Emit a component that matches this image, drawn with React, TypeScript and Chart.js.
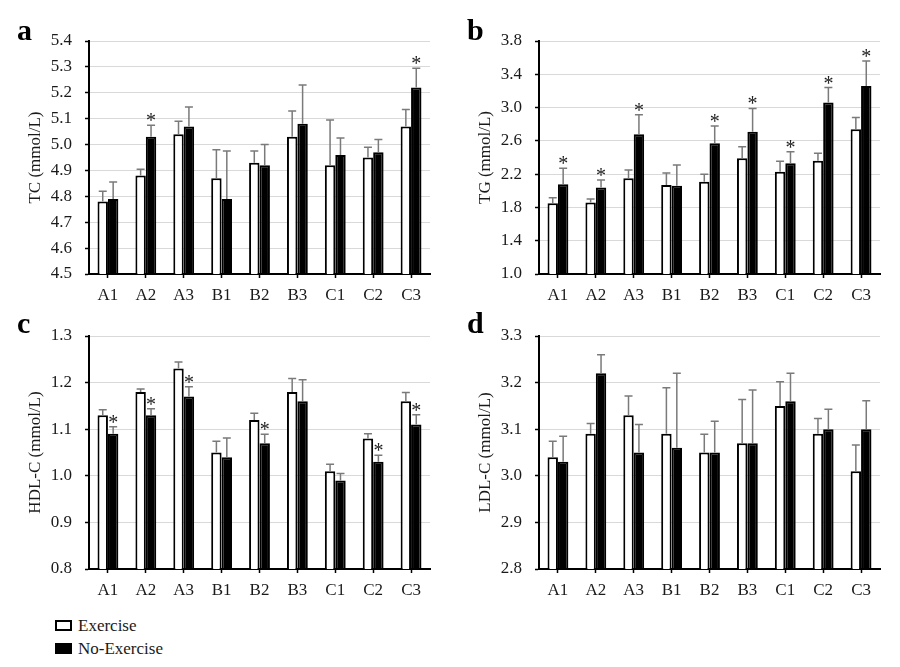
import React, { useEffect, useRef } from "react";
import { Chart, registerables } from "chart.js";

Chart.register(...registerables);

const FONT = "'Liberation Serif', 'Times New Roman', serif";

const categories = ["A1", "A2", "A3", "B1", "B2", "B3", "C1", "C2", "C3"];
const seriesNames = ["Exercise", "No-Exercise"];

// a: TC
const tcExercise = [4.78, 4.88, 5.04, 4.87, 4.93, 5.03, 4.92, 4.95, 5.07];
const tcExerciseErr = [0.04, 0.025, 0.05, 0.11, 0.045, 0.1, 0.175, 0.04, 0.065];
const tcNoExercise = [4.79, 5.03, 5.07, 4.79, 4.92, 5.08, 4.96, 4.97, 5.22];
const tcNoExerciseErr = [0.065, 0.045, 0.075, 0.185, 0.08, 0.15, 0.065, 0.05, 0.075];
const tcSig = [false, true, false, false, false, false, false, false, true];

// b: TG
const tgExercise = [1.85, 1.86, 2.15, 2.07, 2.11, 2.39, 2.23, 2.36, 2.74];
const tgExerciseErr = [0.065, 0.04, 0.1, 0.145, 0.09, 0.14, 0.125, 0.09, 0.14];
const tgNoExercise = [2.08, 2.04, 2.68, 2.06, 2.57, 2.71, 2.33, 3.06, 3.26];
const tgNoExerciseErr = [0.19, 0.09, 0.235, 0.25, 0.21, 0.28, 0.14, 0.18, 0.3];
const tgSig = [true, true, true, false, true, true, true, true, true];

// c: HDL-C
const hdlExercise = [1.13, 1.18, 1.23, 1.05, 1.12, 1.18, 1.01, 1.08, 1.16];
const hdlExerciseErr = [0.012, 0.006, 0.014, 0.024, 0.014, 0.029, 0.015, 0.01, 0.019];
const hdlNoExercise = [1.09, 1.13, 1.17, 1.04, 1.07, 1.16, 0.99, 1.03, 1.11];
const hdlNoExerciseErr = [0.015, 0.014, 0.021, 0.041, 0.019, 0.046, 0.015, 0.014, 0.021];
const hdlSig = [true, true, true, false, true, false, false, true, true];

// d: LDL-C
const ldlExercise = [3.04, 3.09, 3.13, 3.09, 3.05, 3.07, 3.15, 3.09, 3.01];
const ldlExerciseErr = [0.034, 0.022, 0.041, 0.099, 0.039, 0.094, 0.052, 0.033, 0.056];
const ldlNoExercise = [3.03, 3.22, 3.05, 3.06, 3.05, 3.07, 3.16, 3.1, 3.1];
const ldlNoExerciseErr = [0.055, 0.04, 0.06, 0.16, 0.067, 0.114, 0.06, 0.043, 0.061];
const ldlSig = [false, false, false, false, false, false, false, false, false];

type PanelProps = {
  left: number;
  top: number;
  letter: string;
  yTitle: string;
  yMin: number;
  yMax: number;
  yStep: number;
  ex: number[];
  exErr: number[];
  noEx: number[];
  noExErr: number[];
  sig: boolean[];
};

function Panel(p: PanelProps) {
  const ref = useRef<HTMLCanvasElement | null>(null);
  useEffect(() => {
    if (!ref.current) return;
    const errs = [p.exErr, p.noExErr];
    const errPlugin = {
      id: "errbars",
      afterDatasetsDraw(chart: any) {
        const { ctx } = chart;
        const y = chart.scales.y;
        ctx.save();
        chart.data.datasets.forEach((ds: any, di: number) => {
          const meta = chart.getDatasetMeta(di);
          meta.data.forEach((bar: any, i: number) => {
            const v = ds.data[i];
            const e = errs[di][i];
            const yTop = y.getPixelForValue(v + e);
            const yBase = y.getPixelForValue(v);
            ctx.strokeStyle = "#7a7a7a";
            ctx.lineWidth = 1.5;
            ctx.beginPath();
            ctx.moveTo(bar.x, yBase);
            ctx.lineTo(bar.x, yTop);
            ctx.moveTo(bar.x - 4, yTop);
            ctx.lineTo(bar.x + 4, yTop);
            ctx.stroke();
            if (di === 1 && p.sig[i]) {
              ctx.fillStyle = "#222";
              ctx.font = `20px ${FONT}`;
              ctx.textAlign = "center";
              ctx.textBaseline = "alphabetic";
              ctx.fillText("*", bar.x, yTop + 2);
            }
          });
        });
        ctx.restore();
      },
    };
    const chart = new Chart(ref.current, {
      type: "bar",
      data: {
        labels: categories,
        datasets: [
          {
            label: seriesNames[0],
            data: p.ex,
            backgroundColor: "#ffffff",
            borderColor: "#000000",
            borderWidth: 2,
            categoryPercentage: 0.55,
            barPercentage: 1.0,
          },
          {
            label: seriesNames[1],
            data: p.noEx,
            backgroundColor: "#000000",
            borderColor: "#000000",
            borderWidth: 2,
            categoryPercentage: 0.55,
            barPercentage: 1.0,
          },
        ],
      },
      options: {
        animation: false,
        responsive: false,
        maintainAspectRatio: false,
        layout: { padding: { top: 41, right: 20, bottom: 16, left: 0 } },
        plugins: {
          legend: { display: false },
          tooltip: { enabled: false },
        },
        scales: {
          x: {
            afterFit: (s: any) => {
              s.height = 30;
            },
            grid: {
              offset: false,
              drawOnChartArea: false,
              drawTicks: true,
              tickLength: 4,
              tickColor: "#000",
              tickWidth: 1.5,
            },
            border: { color: "#000", width: 2 },
            ticks: {
              color: "#1a1a1a",
              font: { family: FONT, size: 17 },
              padding: 7,
            },
          },
          y: {
            min: p.yMin,
            max: p.yMax,
            afterFit: (s: any) => {
              s.width = 89;
            },
            grid: {
              color: "#d9d9d9",
              lineWidth: 1,
              drawTicks: true,
              tickLength: 4,
              tickColor: "#000",
              tickWidth: 1.5,
            },
            border: { color: "#000", width: 2 },
            ticks: {
              stepSize: p.yStep,
              color: "#1a1a1a",
              font: { family: FONT, size: 17 },
              padding: 13,
              callback: (v: any) => Number(v).toFixed(1),
            },
            title: {
              display: true,
              text: p.yTitle,
              color: "#1a1a1a",
              font: { family: FONT, size: 17 },
              padding: { top: 25, bottom: 0 },
            },
          },
        },
      },
      plugins: [errPlugin],
    } as any);
    return () => chart.destroy();
  }, []);
  return (
    <>
      <canvas
        ref={ref}
        width={450}
        height={320}
        style={{ position: "absolute", left: p.left, top: p.top, width: 450, height: 320 }}
      />
      <div
        style={{
          position: "absolute",
          left: p.left + 17,
          top: p.top + (p.top === 0 ? 15 : 13),
          fontFamily: FONT,
          fontWeight: "bold",
          fontSize: 30,
          lineHeight: "30px",
          color: "#000",
        }}
      >
        {p.letter}
      </div>
    </>
  );
}

export default function App() {
  return (
    <div
      style={{
        position: "absolute",
        left: 0,
        top: 0,
        width: 900,
        height: 667,
        background: "#fff",
        overflow: "hidden",
      }}
    >
      <Panel left={0} top={0} letter="a" yTitle="TC (mmol/L)" yMin={4.5} yMax={5.4} yStep={0.1}
        ex={tcExercise} exErr={tcExerciseErr} noEx={tcNoExercise} noExErr={tcNoExerciseErr} sig={tcSig} />
      <Panel left={450} top={0} letter="b" yTitle="TG (mmol/L)" yMin={1.0} yMax={3.8} yStep={0.4}
        ex={tgExercise} exErr={tgExerciseErr} noEx={tgNoExercise} noExErr={tgNoExerciseErr} sig={tgSig} />
      <Panel left={0} top={295} letter="c" yTitle="HDL-C (mmol/L)" yMin={0.8} yMax={1.3} yStep={0.1}
        ex={hdlExercise} exErr={hdlExerciseErr} noEx={hdlNoExercise} noExErr={hdlNoExerciseErr} sig={hdlSig} />
      <Panel left={450} top={295} letter="d" yTitle="LDL-C (mmol/L)" yMin={2.8} yMax={3.3} yStep={0.1}
        ex={ldlExercise} exErr={ldlExerciseErr} noEx={ldlNoExercise} noExErr={ldlNoExerciseErr} sig={ldlSig} />
      <div style={{ position: "absolute", left: 55, top: 620, width: 17, height: 11, boxSizing: "border-box", border: "2px solid #000", background: "#fff" }} />
      <div style={{ position: "absolute", left: 78, top: 616, fontFamily: FONT, fontSize: 17, lineHeight: "20px", color: "#1a1a1a" }}>
        {seriesNames[0]}
      </div>
      <div style={{ position: "absolute", left: 55, top: 643, width: 17, height: 11, background: "#000" }} />
      <div style={{ position: "absolute", left: 78, top: 639, fontFamily: FONT, fontSize: 17, lineHeight: "20px", color: "#1a1a1a" }}>
        {seriesNames[1]}
      </div>
    </div>
  );
}
